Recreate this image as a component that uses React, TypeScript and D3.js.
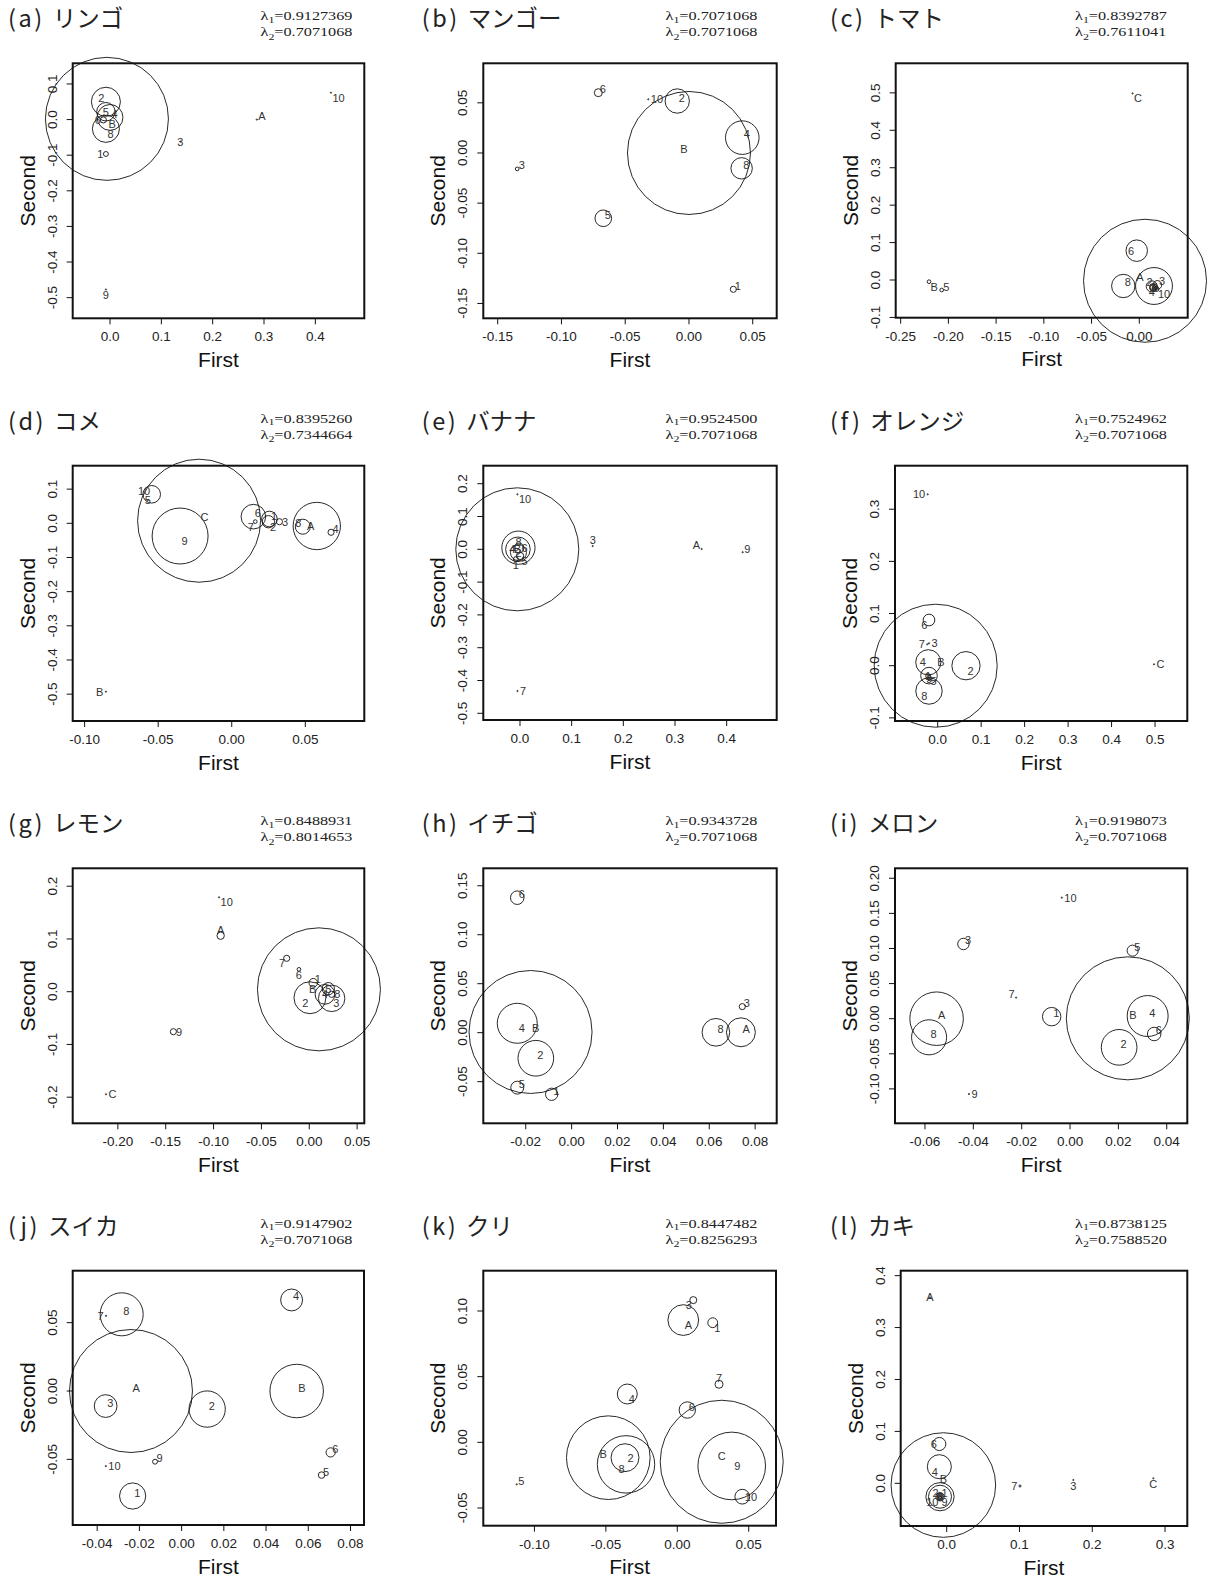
import React from "react";
import * as d3 from "d3";

// Each mark: [label, First, Second, weight (largest circle = 1), label placement]
type Mark = [string, number, number, number, string];

const appleMarks: Mark[] = [
  ["B", -0.006, 0.002, 1.0, "se"],
  ["2", -0.008, 0.05, 0.236, "nw"],
  ["5", -0.008, 0.022, 0.15, "c"],
  ["4", 0.0, 0.006, 0.21, "ne"],
  ["6", -0.013, -0.001, 0.05, "w"],
  ["8", -0.008, -0.026, 0.22, "se"],
  ["1", -0.008, -0.0966, 0.04, "w"],
  ["3", 0.137, -0.062, 0.005, "c"],
  ["A", 0.286, 0.0, 0.01, "ne"],
  ["10", 0.4305, 0.0755, 0.005, "se"],
  ["9", -0.008, -0.477, 0.005, "s"],
];

const mangoMarks: Mark[] = [
  ["B", 0.0, 0.0, 1.0, "nw"],
  ["2", -0.0092, 0.0518, 0.198, "ne"],
  ["4", 0.0418, 0.0153, 0.273, "ne"],
  ["8", 0.0413, -0.0153, 0.174, "ne"],
  ["10", -0.0319, 0.0535, 0.005, "e"],
  ["6", -0.0711, 0.0601, 0.065, "ne"],
  ["3", -0.1347, -0.0159, 0.03, "ne"],
  ["5", -0.0672, -0.0651, 0.135, "ne"],
  ["1", 0.0348, -0.1359, 0.05, "ne"],
];

const tomatoMarks: Mark[] = [
  ["A", 0.006, -0.002, 1.0, "nw"],
  ["6", -0.0027, 0.0784, 0.175, "w"],
  ["8", -0.0168, -0.016, 0.19, "ne"],
  ["2", 0.0154, -0.016, 0.3, "nw"],
  ["3", 0.019, -0.013, 0.07, "ne"],
  ["4", 0.013, -0.017, 0.09, "s"],
  ["1", 0.015, -0.019, 0.06, "c"],
  ["7", 0.014, -0.021, 0.05, "c"],
  ["9", 0.016, -0.022, 0.04, "c"],
  ["10", 0.018, -0.024, 0.04, "se"],
  ["C", -0.007, 0.4987, 0.005, "se"],
  ["B", -0.2203, -0.0045, 0.03, "se"],
  ["5", -0.207, -0.0267, 0.03, "ne"],
];

const riceMarks: Mark[] = [
  ["C", -0.0222, 0.0076, 1.0, "ne"],
  ["9", -0.0351, -0.0372, 0.455, "se"],
  ["10", -0.0544, 0.0849, 0.143, "nw"],
  ["5", -0.057, 0.068, 0.005, "c"],
  ["6", 0.0147, 0.0195, 0.2, "ne"],
  ["7", 0.016, 0.005, 0.03, "sw"],
  ["1", 0.0256, 0.0126, 0.127, "ne"],
  ["2", 0.0249, 0.0047, 0.1, "se"],
  ["3", 0.0324, 0.0047, 0.05, "e"],
  ["8", 0.0483, -0.0099, 0.122, "nw"],
  ["A", 0.0578, -0.0079, 0.385, "w"],
  ["4", 0.0675, -0.0263, 0.05, "ne"],
  ["B", -0.0855, -0.4928, 0.005, "w"],
];

const bananaMarks: Mark[] = [
  ["B", -0.0052, 0.0, 1.0, "c"],
  ["8", -0.003, 0.005, 0.27, "n"],
  ["4", -0.004, 0.0, 0.2, "w"],
  ["6", -0.002, 0.004, 0.08, "e"],
  ["2", -0.003, -0.01, 0.13, "c"],
  ["5", 0.0, -0.02, 0.06, "se"],
  ["1", -0.008, -0.03, 0.04, "s"],
  ["10", -0.005, 0.1677, 0.005, "se"],
  ["3", 0.1407, 0.01, 0.005, "n"],
  ["A", 0.3516, 0.001, 0.005, "nw"],
  ["9", 0.431, -0.009, 0.005, "ne"],
  ["7", -0.005, -0.432, 0.005, "e"],
];

const orangeMarks: Mark[] = [
  ["B", -0.0046, 0.0, 1.0, "ne"],
  ["2", 0.0651, 0.0, 0.23, "se"],
  ["4", -0.0216, 0.0065, 0.205, "w"],
  ["8", -0.02, -0.0485, 0.215, "sw"],
  ["6", -0.02, 0.0876, 0.095, "sw"],
  ["5", -0.02, -0.019, 0.135, "se"],
  ["1", -0.022, -0.02, 0.04, "c"],
  ["9", -0.02, -0.025, 0.03, "c"],
  ["7", -0.024, 0.041, 0.005, "w"],
  ["3", -0.02, 0.043, 0.005, "e"],
  ["10", -0.023, 0.3285, 0.005, "w"],
  ["C", 0.4976, 0.0027, 0.005, "e"],
];

const lemonMarks: Mark[] = [
  ["B", 0.0101, 0.0045, 1.0, "w"],
  ["2", 0.0007, -0.0114, 0.26, "sw"],
  ["3", 0.0234, -0.0126, 0.215, "se"],
  ["4", 0.0164, -0.005, 0.16, "c"],
  ["5", 0.0199, 0.0057, 0.1, "c"],
  ["8", 0.0234, -0.005, 0.05, "e"],
  ["1", 0.0042, 0.017, 0.07, "ne"],
  ["6", -0.0108, 0.0424, 0.03, "s"],
  ["7", -0.0236, 0.0633, 0.05, "sw"],
  ["A", -0.0926, 0.1062, 0.06, "n"],
  ["10", -0.0943, 0.179, 0.005, "se"],
  ["9", -0.142, -0.0758, 0.05, "e"],
  ["C", -0.2124, -0.1945, 0.005, "e"],
];

const strawberryMarks: Mark[] = [
  ["B", -0.0179, 0.0007, 1.0, "ne"],
  ["4", -0.0237, 0.0096, 0.325, "se"],
  ["2", -0.0156, -0.0261, 0.29, "ne"],
  ["6", -0.0237, 0.1378, 0.11, "ne"],
  ["5", -0.0237, -0.0561, 0.105, "ne"],
  ["1", -0.0087, -0.0629, 0.1, "ne"],
  ["8", 0.0629, 0.0004, 0.225, "ne"],
  ["A", 0.0738, 0.0004, 0.235, "ne"],
  ["3", 0.0744, 0.0266, 0.05, "ne"],
];

const melonMarks: Mark[] = [
  ["B", 0.0239, 0.0005, 1.0, "ne"],
  ["4", 0.0321, 0.0038, 0.333, "ne"],
  ["6", 0.0348, -0.0218, 0.11, "ne"],
  ["2", 0.0203, -0.0408, 0.29, "ne"],
  ["1", -0.0076, 0.0029, 0.15, "ne"],
  ["A", -0.0552, 0.0, 0.435, "ne"],
  ["8", -0.0583, -0.0265, 0.285, "ne"],
  ["3", -0.0441, 0.1064, 0.093, "ne"],
  ["5", 0.0259, 0.0969, 0.09, "ne"],
  ["7", -0.0223, 0.03, 0.005, "nw"],
  ["10", -0.0034, 0.1724, 0.005, "e"],
  ["9", -0.0418, -0.1073, 0.005, "e"],
];

const watermelonMarks: Mark[] = [
  ["A", -0.024, 0.0, 1.0, "ne"],
  ["8", -0.0284, 0.0561, 0.35, "ne"],
  ["7", -0.0358, 0.055, 0.005, "w"],
  ["3", -0.036, -0.011, 0.185, "ne"],
  ["2", 0.0121, -0.0132, 0.295, "ne"],
  ["B", 0.0545, 0.0, 0.435, "ne"],
  ["4", 0.0521, 0.0666, 0.178, "ne"],
  ["6", 0.0706, -0.0449, 0.075, "ne"],
  ["5", 0.0663, -0.0615, 0.053, "ne"],
  ["1", -0.0232, -0.0768, 0.213, "ne"],
  ["10", -0.0359, -0.0549, 0.005, "e"],
  ["9", -0.0126, -0.0517, 0.04, "ne"],
];

const chestnutMarks: Mark[] = [
  ["C", 0.0311, -0.0148, 1.0, "n"],
  ["9", 0.0381, -0.018, 0.55, "e"],
  ["10", 0.0455, -0.0414, 0.12, "e"],
  ["B", -0.0483, -0.0117, 0.68, "nw"],
  ["8", -0.0359, -0.0168, 0.467, "sw"],
  ["2", -0.0366, -0.0117, 0.227, "e"],
  ["4", -0.035, 0.0368, 0.162, "se"],
  ["6", 0.007, 0.0246, 0.133, "ne"],
  ["7", 0.0292, 0.0442, 0.065, "n"],
  ["A", 0.0042, 0.0931, 0.25, "se"],
  ["3", 0.0112, 0.1083, 0.057, "sw"],
  ["1", 0.0248, 0.0911, 0.08, "se"],
  ["5", -0.1124, -0.032, 0.005, "ne"],
];

const persimmonMarks: Mark[] = [
  ["B", -0.0046, -0.0033, 1.0, "n"],
  ["6", -0.0101, 0.0757, 0.125, "w"],
  ["4", -0.0101, 0.032, 0.23, "sw"],
  ["2", -0.0092, -0.0258, 0.27, "nw"],
  ["1", -0.0092, -0.0258, 0.22, "ne"],
  ["10", -0.0092, -0.0258, 0.08, "sw"],
  ["9", -0.0092, -0.0258, 0.06, "se"],
  ["5", -0.0095, -0.026, 0.04, "c"],
  ["8", -0.009, -0.0255, 0.03, "c"],
  ["7", 0.1007, -0.0052, 0.02, "w"],
  ["3", 0.174, 0.0064, 0.01, "s"],
  ["C", 0.2839, 0.0096, 0.005, "s"],
  ["A", -0.023, 0.358, 0.005, "c"],
];

const markSets = [
  appleMarks, mangoMarks, tomatoMarks, riceMarks, bananaMarks, orangeMarks,
  lemonMarks, strawberryMarks, melonMarks, watermelonMarks, chestnutMarks, persimmonMarks,
];

const panelLetters = ["a", "b", "c", "d", "e", "f", "g", "h", "i", "j", "k", "l"];
const panelNames = ["リンゴ", "マンゴー", "トマト", "コメ", "バナナ", "オレンジ", "レモン", "イチゴ", "メロン", "スイカ", "クリ", "カキ"];
const lambda1 = ["0.9127369", "0.7071068", "0.8392787", "0.8395260", "0.9524500", "0.7524962", "0.8488931", "0.9343728", "0.9198073", "0.9147902", "0.8447482", "0.8738125"];
const lambda2 = ["0.7071068", "0.7071068", "0.7611041", "0.7344664", "0.7071068", "0.7071068", "0.8014653", "0.7071068", "0.7071068", "0.7071068", "0.8256293", "0.7588520"];

const xTickSets = [
  [0, 0.1, 0.2, 0.3, 0.4],
  [-0.15, -0.1, -0.05, 0, 0.05],
  [-0.25, -0.2, -0.15, -0.1, -0.05, 0],
  [-0.1, -0.05, 0, 0.05],
  [0, 0.1, 0.2, 0.3, 0.4],
  [0, 0.1, 0.2, 0.3, 0.4, 0.5],
  [-0.2, -0.15, -0.1, -0.05, 0, 0.05],
  [-0.02, 0, 0.02, 0.04, 0.06, 0.08],
  [-0.06, -0.04, -0.02, 0, 0.02, 0.04],
  [-0.04, -0.02, 0, 0.02, 0.04, 0.06, 0.08],
  [-0.1, -0.05, 0, 0.05],
  [0, 0.1, 0.2, 0.3],
];
const yTickSets = [
  [-0.5, -0.4, -0.3, -0.2, -0.1, 0, 0.1],
  [-0.15, -0.1, -0.05, 0, 0.05],
  [-0.1, 0, 0.1, 0.2, 0.3, 0.4, 0.5],
  [-0.5, -0.4, -0.3, -0.2, -0.1, 0, 0.1],
  [-0.5, -0.4, -0.3, -0.2, -0.1, 0, 0.1, 0.2],
  [-0.1, 0, 0.1, 0.2, 0.3],
  [-0.2, -0.1, 0, 0.1, 0.2],
  [-0.05, 0, 0.05, 0.1, 0.15],
  [-0.1, -0.05, 0, 0.05, 0.1, 0.15, 0.2],
  [-0.05, 0, 0.05],
  [-0.05, 0, 0.05, 0.1],
  [0, 0.1, 0.2, 0.3, 0.4],
];
// digits shown on the First / Second tick labels
const tickDigits: [number, number][] = [
  [1, 1], [2, 2], [2, 1], [2, 1], [1, 1], [1, 1],
  [2, 1], [2, 2], [2, 2], [2, 2], [2, 2], [1, 1],
];
const xDomains: [number, number][] = [
  [-0.0727, 0.4954], [-0.1613, 0.0688], [-0.2552, 0.0507], [-0.1081, 0.0901],
  [-0.071, 0.4968], [-0.0982, 0.5742], [-0.2472, 0.0575], [-0.0385, 0.0894],
  [-0.0724, 0.0485], [-0.0516, 0.0864], [-0.1358, 0.0691], [-0.0632, 0.3306],
];
const yDomains: [number, number][] = [
  [-0.558, 0.158], [-0.1648, 0.0894], [-0.1007, 0.579], [-0.5786, 0.1686],
  [-0.5204, 0.2549], [-0.106, 0.3834], [-0.2495, 0.234], [-0.0925, 0.1678],
  [-0.149, 0.2142], [-0.098, 0.088], [-0.0635, 0.1307], [-0.0822, 0.4095],
];

// plot frames on the page: [left, top, right, bottom]
const frames: [number, number, number, number][] = [
  [72.7, 63.3, 364.3, 318.3], [483.3, 63.3, 776.7, 318.3], [895.7, 63.3, 1187.7, 317.7],
  [72.7, 465.7, 364.3, 721], [483.3, 465.7, 776.7, 720], [895, 465.7, 1187.3, 721],
  [72.7, 868.3, 364.3, 1123.3], [483.3, 868.3, 776.7, 1123.3], [895, 868.3, 1187.3, 1123.3],
  [72.7, 1270.7, 364, 1525], [483.3, 1270.7, 776, 1525.7], [900.7, 1270.7, 1187.3, 1526],
];
const titleXs = [8, 421.7, 830];
const lambdaXs = [260.5, 665.5, 1075];
const radiusMax = [61.5, 61.5, 61.5, 61.5, 61.5, 61.5, 61.5, 61.5, 61.5, 61.5, 61.5, 52.3];

const SANS = "'Liberation Sans', Arial, Helvetica, sans-serif";
const SERIF = "'Liberation Serif', 'Times New Roman', serif";
const CJK = "'Noto Sans CJK JP', 'Noto Sans', sans-serif";

function labelPlacement(pos: string) {
  switch (pos) {
    case "ne": return { dx: 1.5, dy: 0.5, anchor: "start" };
    case "nw": return { dx: -1.5, dy: 0.5, anchor: "end" };
    case "se": return { dx: 1.5, dy: 9, anchor: "start" };
    case "sw": return { dx: -1.5, dy: 9, anchor: "end" };
    case "n": return { dx: 0, dy: -2, anchor: "middle" };
    case "s": return { dx: 0, dy: 10, anchor: "middle" };
    case "e": return { dx: 2.5, dy: 4, anchor: "start" };
    case "w": return { dx: -2.5, dy: 4, anchor: "end" };
    default: return { dx: 0, dy: 4, anchor: "middle" };
  }
}

function Panel({ i }: { i: number }) {
  const [left, top, right, bottom] = frames[i];
  const col = i % 3;
  const x = d3.scaleLinear().domain(xDomains[i]).range([left, right]);
  const y = d3.scaleLinear().domain(yDomains[i]).range([bottom, top]);
  const rad = d3.scaleLinear().domain([0, 1]).range([0, radiusMax[i]]);
  const [dx, dy] = tickDigits[i];
  const marks = markSets[i];
  const lx = lambdaXs[col];

  return (
    <g>
      {/* panel title */}
      <text x={titleXs[col]} y={top - 36} fontFamily={CJK} fontSize={23.5} fill="#222">
        <tspan letterSpacing={2.5}>({panelLetters[i]})</tspan>
        <tspan dx={8}>{panelNames[i]}</tspan>
      </text>
      {/* eigenvalues */}
      <g transform={`translate(${lx},${top - 43}) scale(1.33,1)`}>
        <text fontFamily={SERIF} fontSize={12.2} fill="#222">
          λ<tspan fontSize={9} dy={2.5}>1</tspan>
          <tspan dy={-2.5}>={lambda1[i]}</tspan>
        </text>
      </g>
      <g transform={`translate(${lx},${top - 27}) scale(1.33,1)`}>
        <text fontFamily={SERIF} fontSize={12.2} fill="#222">
          λ<tspan fontSize={9} dy={3.5}>2</tspan>
          <tspan dy={-3.5}>={lambda2[i]}</tspan>
        </text>
      </g>

      {/* bubbles */}
      {marks.map((m, k) => (
        <circle key={`c${k}`} cx={x(m[1])} cy={y(m[2])} r={Math.max(rad(m[3]), 0.6)}
          fill="none" stroke="#111" strokeWidth={0.9} />
      ))}
      {marks.map((m, k) => {
        const p = labelPlacement(m[4]);
        return (
          <text key={`t${k}`} x={x(m[1]) + p.dx} y={y(m[2]) + p.dy} textAnchor={p.anchor}
            fontFamily={SANS} fontSize={11} fill="#333">{m[0]}</text>
        );
      })}

      {/* frame */}
      <rect x={left} y={top} width={right - left} height={bottom - top}
        fill="none" stroke="#111" strokeWidth={2} />

      {/* First axis */}
      {xTickSets[i].map((t, k) => (
        <g key={`xt${k}`}>
          <line x1={x(t)} x2={x(t)} y1={bottom} y2={bottom + 6} stroke="#111" strokeWidth={1} />
          <text x={x(t)} y={bottom + 23} textAnchor="middle" fontFamily={SANS} fontSize={13.5} fill="#222">
            {t.toFixed(dx)}
          </text>
        </g>
      ))}
      <text x={(left + right) / 2} y={bottom + 48.5} textAnchor="middle" fontFamily={SANS} fontSize={21} fill="#111">
        First
      </text>

      {/* Second axis */}
      {yTickSets[i].map((t, k) => (
        <g key={`yt${k}`}>
          <line x1={left - 6} x2={left} y1={y(t)} y2={y(t)} stroke="#111" strokeWidth={1} />
          <text transform={`translate(${left - 16},${y(t)}) rotate(-90)`} textAnchor="middle"
            fontFamily={SANS} fontSize={13.5} fill="#222">
            {t.toFixed(dy)}
          </text>
        </g>
      ))}
      <text transform={`translate(${left - 38},${(top + bottom) / 2}) rotate(-90)`} textAnchor="middle"
        fontFamily={SANS} fontSize={21} fill="#111">
        Second
      </text>
    </g>
  );
}

export default function App() {
  return (
    <svg width={1208} height={1577} viewBox="0 0 1208 1577"
      style={{ position: "absolute", left: 0, top: 0, display: "block", background: "#fff" }}>
      <rect x={0} y={0} width={1208} height={1577} fill="#fff" />
      {markSets.map((_, i) => <Panel key={i} i={i} />)}
    </svg>
  );
}
